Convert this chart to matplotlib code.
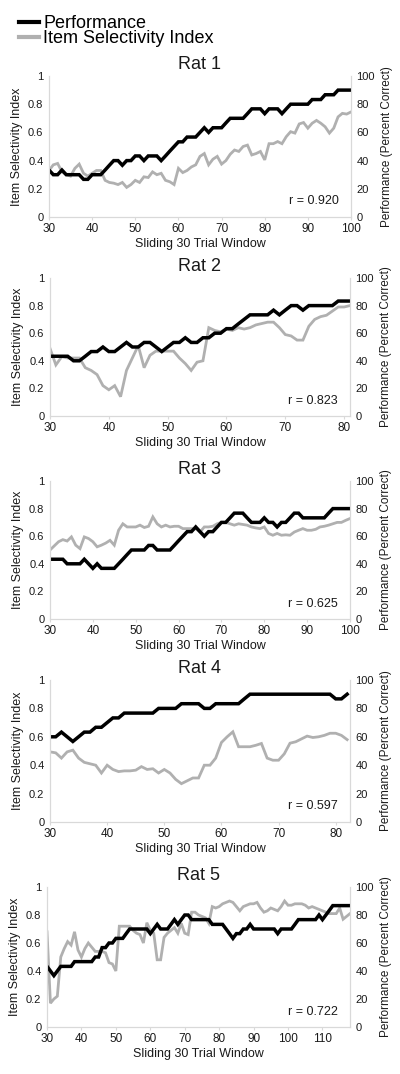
import matplotlib
matplotlib.use('Agg')
import matplotlib.pyplot as plt
import numpy as np
from matplotlib.lines import Line2D

plt.rcParams['font.family'] = ['Liberation Sans', 'DejaVu Sans']

# ---- data ----
rat_names = ['Rat 1', 'Rat 2', 'Rat 3', 'Rat 4', 'Rat 5']
r_labels = ['r = 0.920', 'r = 0.823', 'r = 0.625', 'r = 0.597', 'r = 0.722']
first_window = 30  # first sliding window (trial 30)

# performance in percent correct (30 trial window -> steps of 3.33 %)
rat1_perf = [33.3, 30.0, 30.0, 33.3, 30.0, 30.0, 30.0, 30.0, 26.7, 26.7,
             30.0, 30.0, 30.0, 33.3, 36.7, 40.0, 40.0, 36.7, 40.0, 40.0,
             43.3, 43.3, 40.0, 43.3, 43.3, 43.3, 40.0, 43.3, 46.7, 50.0,
             53.3, 53.3, 56.7, 56.7, 56.7, 60.0, 63.3, 60.0, 63.3, 63.3,
             63.3, 66.7, 70.0, 70.0, 70.0, 70.0, 73.3, 76.7, 76.7, 76.7,
             73.3, 76.7, 76.7, 76.7, 73.3, 76.7, 80.0, 80.0, 80.0, 80.0,
             80.0, 83.3, 83.3, 83.3, 86.7, 86.7, 86.7, 90.0, 90.0, 90.0,
             90.0]
rat1_isi = [0.33, 0.37, 0.38, 0.32, 0.30, 0.29, 0.345, 0.375, 0.31, 0.29,
            0.31, 0.33, 0.33, 0.26, 0.245, 0.24, 0.23, 0.245, 0.21, 0.23,
            0.26, 0.245, 0.285, 0.28, 0.32, 0.30, 0.31, 0.26, 0.25, 0.23,
            0.345, 0.315, 0.33, 0.355, 0.37, 0.43, 0.45, 0.37, 0.41, 0.43,
            0.375, 0.40, 0.445, 0.475, 0.465, 0.50, 0.51, 0.44, 0.45, 0.465,
            0.405, 0.52, 0.52, 0.535, 0.52, 0.57, 0.605, 0.595, 0.66, 0.67,
            0.63, 0.665, 0.685, 0.665, 0.64, 0.595, 0.63, 0.71, 0.735, 0.73,
            0.745]

rat2_perf = [43.3, 43.3, 43.3, 43.3, 40.0, 40.0, 43.3, 46.7, 46.7, 50.0,
             46.7, 46.7, 50.0, 53.3, 50.0, 50.0, 53.3, 53.3, 50.0, 46.7,
             50.0, 53.3, 53.3, 56.7, 53.3, 53.3, 56.7, 56.7, 60.0, 60.0,
             63.3, 63.3, 66.7, 70.0, 73.3, 73.3, 73.3, 73.3, 76.7, 73.3,
             76.7, 80.0, 80.0, 76.7, 80.0, 80.0, 80.0, 80.0, 80.0, 83.3,
             83.3, 83.3]
rat2_isi = [0.49, 0.37, 0.43, 0.42, 0.42, 0.42, 0.35, 0.33, 0.30, 0.22,
            0.19, 0.22, 0.14, 0.33, 0.42, 0.51, 0.35, 0.44, 0.47, 0.47,
            0.47, 0.47, 0.42, 0.38, 0.33, 0.39, 0.40, 0.64, 0.62, 0.61,
            0.63, 0.62, 0.64, 0.63, 0.64, 0.66, 0.67, 0.68, 0.68, 0.64,
            0.59, 0.58, 0.55, 0.55, 0.65, 0.70, 0.72, 0.73, 0.76, 0.79,
            0.79, 0.80]

rat3_perf = [43.3, 43.3, 43.3, 43.3, 40.0, 40.0, 40.0, 40.0, 43.3, 40.0,
             36.7, 40.0, 36.7, 36.7, 36.7, 36.7, 40.0, 43.3, 46.7, 50.0,
             50.0, 50.0, 50.0, 53.3, 53.3, 50.0, 50.0, 50.0, 50.0, 53.3,
             56.7, 60.0, 63.3, 63.3, 66.7, 63.3, 60.0, 63.3, 63.3, 66.7,
             70.0, 70.0, 73.3, 76.7, 76.7, 76.7, 73.3, 70.0, 70.0, 70.0,
             73.3, 70.0, 70.0, 66.7, 70.0, 70.0, 73.3, 76.7, 76.7, 73.3,
             73.3, 73.3, 73.3, 73.3, 73.3, 76.7, 80.0, 80.0, 80.0, 80.0,
             80.0]
rat3_isi = [0.50, 0.53, 0.56, 0.575, 0.565, 0.595, 0.535, 0.51, 0.595, 0.583,
            0.56, 0.523, 0.535, 0.55, 0.57, 0.535, 0.643, 0.69, 0.667, 0.667,
            0.667, 0.68, 0.663, 0.672, 0.74, 0.69, 0.667, 0.68, 0.667, 0.672,
            0.672, 0.655, 0.655, 0.655, 0.655, 0.63, 0.667, 0.667, 0.672, 0.69,
            0.70, 0.70, 0.69, 0.68, 0.69, 0.685, 0.68, 0.667, 0.66, 0.655,
            0.667, 0.62, 0.607, 0.62, 0.607, 0.61, 0.607, 0.63, 0.643, 0.655,
            0.643, 0.643, 0.65, 0.667, 0.672, 0.68, 0.69, 0.70, 0.70, 0.715,
            0.728]

rat4_perf = [60.0, 60.0, 63.3, 60.0, 56.7, 60.0, 63.3, 63.3, 66.7, 66.7,
             70.0, 73.3, 73.3, 76.7, 76.7, 76.7, 76.7, 76.7, 76.7, 80.0,
             80.0, 80.0, 80.0, 83.3, 83.3, 83.3, 83.3, 80.0, 80.0, 83.3,
             83.3, 83.3, 83.3, 83.3, 86.7, 90.0, 90.0, 90.0, 90.0, 90.0,
             90.0, 90.0, 90.0, 90.0, 90.0, 90.0, 90.0, 90.0, 90.0, 90.0,
             86.7, 86.7, 90.0]
rat4_isi = [0.494, 0.487, 0.45, 0.494, 0.506, 0.45, 0.42, 0.41, 0.40, 0.345,
            0.40, 0.37, 0.355, 0.36, 0.36, 0.365, 0.39, 0.37, 0.375, 0.345,
            0.37, 0.345, 0.30, 0.27, 0.29, 0.31, 0.31, 0.40, 0.40, 0.45,
            0.56, 0.60, 0.635, 0.53, 0.53, 0.53, 0.54, 0.553, 0.45, 0.435,
            0.435, 0.48, 0.555, 0.565, 0.585, 0.605, 0.595, 0.60, 0.61, 0.625,
            0.625, 0.61, 0.58]

rat5_perf = [43.3, 40.0, 36.7, 40.0, 43.3, 43.3, 43.3, 43.3, 46.7, 46.7,
             46.7, 46.7, 46.7, 46.7, 50.0, 50.0, 56.7, 56.7, 60.0, 60.0,
             63.3, 63.3, 63.3, 66.7, 70.0, 70.0, 70.0, 70.0, 70.0, 70.0,
             66.7, 70.0, 73.3, 70.0, 70.0, 70.0, 73.3, 76.7, 73.3, 76.7,
             80.0, 80.0, 76.7, 76.7, 76.7, 76.7, 76.7, 76.7, 73.3, 73.3,
             73.3, 73.3, 70.0, 66.7, 63.3, 66.7, 66.7, 70.0, 70.0, 73.3,
             70.0, 70.0, 70.0, 70.0, 70.0, 70.0, 70.0, 66.7, 70.0, 70.0,
             70.0, 70.0, 73.3, 76.7, 76.7, 76.7, 76.7, 76.7, 76.7, 80.0,
             76.7, 80.0, 83.3, 86.7, 86.7, 86.7, 86.7, 86.7, 86.7]
rat5_isi = [0.68, 0.17, 0.20, 0.22, 0.50, 0.56, 0.61, 0.585, 0.68, 0.55,
            0.50, 0.56, 0.60, 0.57, 0.54, 0.54, 0.54, 0.53, 0.46, 0.45,
            0.40, 0.72, 0.72, 0.72, 0.72, 0.69, 0.67, 0.66, 0.60, 0.745,
            0.69, 0.67, 0.48, 0.48, 0.64, 0.67, 0.69, 0.71, 0.67, 0.74,
            0.67, 0.66, 0.82, 0.82, 0.80, 0.79, 0.78, 0.74, 0.86, 0.85,
            0.86, 0.88, 0.89, 0.90, 0.89, 0.86, 0.83, 0.86, 0.87, 0.88,
            0.88, 0.89, 0.85, 0.82, 0.83, 0.85, 0.84, 0.83, 0.86, 0.90,
            0.87, 0.87, 0.88, 0.88, 0.88, 0.87, 0.85, 0.86, 0.85, 0.84,
            0.83, 0.82, 0.81, 0.81, 0.81, 0.85, 0.77, 0.79, 0.81]

perf_series = [rat1_perf, rat2_perf, rat3_perf, rat4_perf, rat5_perf]
isi_series = [rat1_isi, rat2_isi, rat3_isi, rat4_isi, rat5_isi]

# ---- layout (pixels of the 400x1074 figure: left, top, right, bottom) ----
FIG_W, FIG_H = 400, 1074
panel_boxes = [(49, 76, 351, 217),
               (50, 278, 350, 416),
               (50, 481, 350, 619),
               (50, 680, 350, 822),
               (47, 887, 350, 1027)]
x_limits = [(30, 100), (30, 81), (30, 100), (30, 82.5), (30, 118)]

BLACK = '#000000'
GRAY = '#b0b0b0'
AXIS_GRAY = '#d9d9d9'
TEXT = '#1a1a1a'


def px_rect(box):
    l, t, r, b = box
    return [l / FIG_W, 1 - b / FIG_H, (r - l) / FIG_W, (b - t) / FIG_H]


def draw_panel(fig, box, xlim, name, perf, isi, r_text):
    ax = fig.add_axes(px_rect(box))
    ax2 = ax.twinx()  # right axis for percent correct, drawn on top

    x = np.arange(first_window, first_window + len(isi))
    ax.plot(x, isi, color=GRAY, lw=2.0, solid_joinstyle='miter')
    ax2.plot(x, perf, color=BLACK, lw=2.5, solid_joinstyle='miter')

    ax.set_xlim(*xlim)
    ax.set_ylim(0, 1)
    ax2.set_ylim(0, 100)
    ax.set_xticks(np.arange(30, xlim[1] + 0.1, 10))
    ax.set_yticks([0, 0.2, 0.4, 0.6, 0.8, 1])
    ax.set_yticklabels(['0', '0.2', '0.4', '0.6', '0.8', '1'])
    ax2.set_yticks([0, 20, 40, 60, 80, 100])

    for a in (ax, ax2):
        a.spines['top'].set_visible(False)
        for s in ('left', 'right', 'bottom'):
            a.spines[s].set_color(AXIS_GRAY)
            a.spines[s].set_linewidth(0.8)
        a.tick_params(axis='y', length=0, pad=4, labelsize=8, labelcolor=TEXT)
    ax.tick_params(axis='x', length=2.5, color=AXIS_GRAY, pad=2,
                   labelsize=8.5, labelcolor=TEXT)

    ax.set_title(name, fontsize=13, pad=5, color=TEXT)
    ax.set_xlabel('Sliding 30 Trial Window', fontsize=9, labelpad=2, color=TEXT)
    ax.set_ylabel('Item Selectivity Index', fontsize=9, labelpad=4, color=TEXT)
    ax2.set_ylabel('Performance (Percent Correct)', fontsize=8.5, labelpad=4, color=TEXT)

    ax.text(0.96, 0.11, r_text, transform=ax.transAxes, ha='right', va='center',
            fontsize=9, color=TEXT)


def main():
    fig = plt.figure(figsize=(FIG_W / 100, FIG_H / 100), dpi=100)

    for i in range(len(rat_names)):
        draw_panel(fig, panel_boxes[i], x_limits[i], rat_names[i],
                   perf_series[i], isi_series[i], r_labels[i])

    # legend on top of the whole figure
    handles = [Line2D([], [], color=BLACK, lw=3),
               Line2D([], [], color=GRAY, lw=3)]
    fig.legend(handles, ['Performance', 'Item Selectivity Index'],
               loc='upper left', bbox_to_anchor=(19 / FIG_W, 1 - 15 / FIG_H),
               frameon=False, fontsize=13, handlelength=1.1, handletextpad=0.25,
               labelspacing=-0.1, borderpad=0, borderaxespad=0)

    fig.savefig('out.png', dpi=100)


main()
